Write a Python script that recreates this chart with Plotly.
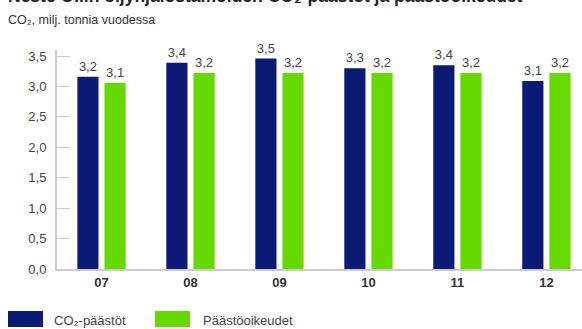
import plotly.graph_objects as go

categories = ["07", "08", "09", "10", "11", "12"]
co2_emissions = [3.16, 3.39, 3.46, 3.30, 3.35, 3.09]
allowances = [3.06, 3.22, 3.22, 3.22, 3.22, 3.22]
y_ticks = [0, 0.5, 1.0, 1.5, 2.0, 2.5, 3.0, 3.5]
series_names = ["CO₂-päästöt", "Päästöoikeudet"]
colors = ["#0b1a74", "#66d900"]

FONT = "Arial, Liberation Sans, sans-serif"
W, H = 582, 329
L, R, T, B = 57, 0, 50, 60

fig = go.Figure()
for name, vals, col in zip(series_names, [co2_emissions, allowances], colors):
    fig.add_trace(go.Bar(
        x=categories, y=vals, name=name, marker_color=col,
        marker_line_width=0,
        texttemplate="%{y:.1f}", textposition="outside",
        textfont=dict(size=13, color="#444", family=FONT),
        cliponaxis=False,
    ))

fig.update_layout(
    width=W, height=H,
    margin=dict(l=L, r=R, t=T, b=B, autoexpand=False),
    paper_bgcolor="white", plot_bgcolor="white",
    barmode="group", bargap=0.39, bargroupgap=0.22,
    separators=",.",
    showlegend=False,
    font=dict(family=FONT, color="#444"),
    xaxis=dict(
        range=[-0.5, 5.4], showgrid=False, showline=True, automargin=False,
        linecolor="#cccccc", linewidth=2, ticks="",
        tickfont=dict(size=13, color="#333", family=FONT, weight="bold"),
    ),
    yaxis=dict(
        range=[0, 3.6], tickvals=y_ticks, automargin=False,
        ticktext=[f"{v:.1f}".replace(".", ",") for v in y_ticks],
        showgrid=False, showline=True, linecolor="#cccccc", linewidth=2,
        ticks="inside", ticklen=13, tickcolor="#cccccc", tickwidth=1,
        tickfont=dict(size=13, color="#444", family=FONT),
        ticklabelstandoff=6, zeroline=False,
    ),
)

pw, ph = W - L - R, H - T - B
def px_x(x):
    return (x - L) / pw
def px_y(y):
    return (H - B - y) / ph

# Title (cropped at top in the reference) and subtitle
fig.add_annotation(
    text="<b>Neste Oilin öljynjalostamoiden CO₂-päästöt ja päästöoikeudet</b>",
    xref="paper", yref="paper", x=px_x(6), y=px_y(-4),
    xanchor="left", yanchor="middle", showarrow=False,
    font=dict(size=17.5, color="#222", family=FONT),
)
fig.add_annotation(
    text="CO₂, milj. tonnia vuodessa",
    xref="paper", yref="paper", x=px_x(6), y=px_y(20),
    xanchor="left", yanchor="middle", showarrow=False,
    font=dict(size=12.5, color="#333", family=FONT),
)

# Legend drawn manually at the bottom
legend_items = [(8, 43, 52), (155, 190, 201)]
for (x0, x1, tx), name, col in zip(legend_items, series_names, colors):
    fig.add_shape(type="rect", xref="paper", yref="paper",
                  x0=px_x(x0), x1=px_x(x1), y0=px_y(327), y1=px_y(311),
                  fillcolor=col, line_width=0)
    fig.add_annotation(text=name, xref="paper", yref="paper",
                       x=px_x(tx), y=px_y(320), xanchor="left", yanchor="middle",
                       showarrow=False, font=dict(size=13, color="#444", family=FONT))

fig.write_html("out.html", post_script="document.body.style.margin='0';",
               config={"displayModeBar": False})
